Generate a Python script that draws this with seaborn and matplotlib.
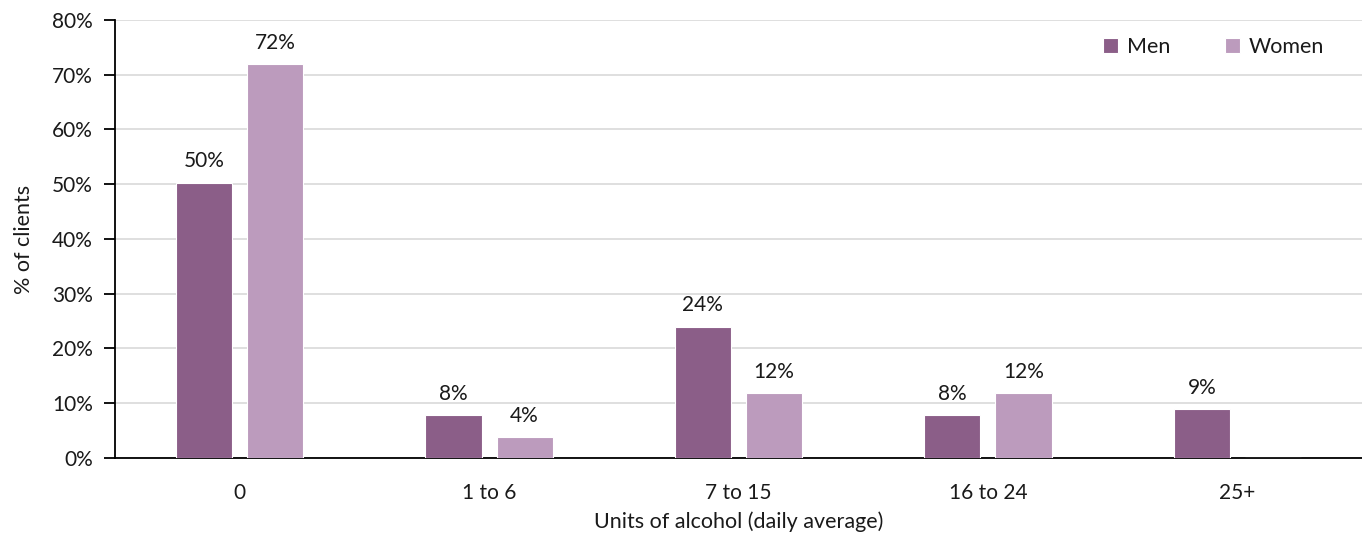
import matplotlib
matplotlib.use("Agg")
import matplotlib.pyplot as plt
import seaborn as sns
import pandas as pd
from matplotlib.ticker import PercentFormatter

categories = ["0", "1 to 6", "7 to 15", "16 to 24", "25+"]
men = [50.3, 7.9, 24.0, 7.9, 8.9]
women = [72.0, 3.9, 11.9, 11.9, 0.0]
series = ["Men", "Women"]
colors = ["#8B5E88", "#BC9BBD"]

df = pd.DataFrame({
    "Units": categories * 2,
    "Sex": ["Men"] * len(categories) + ["Women"] * len(categories),
    "Pct": men + women,
})

sns.set_theme(style="white")
plt.rcParams["font.family"] = ["Lato", "DejaVu Sans"]

fig = plt.figure(figsize=(13.62, 5.37), dpi=100)
ax = fig.add_axes([0.0844, 0.1471, 0.9156, 0.8157])

sns.barplot(data=df, x="Units", y="Pct", hue="Sex", order=categories,
            hue_order=series, palette=colors, saturation=1, width=0.57, gap=0.21,
            edgecolor="white", linewidth=0.8, ax=ax, zorder=3)

for container in ax.containers:
    labels = [f"{v:.0f}%" if v > 0 else "" for v in container.datavalues]
    ax.bar_label(container, labels=labels, padding=8, fontsize=15, color="#1a1a1a")

ax.set_ylim(0, 80)
ax.set_xlim(-0.5, len(categories) - 0.5)
ax.set_yticks(range(0, 81, 10))
ax.yaxis.set_major_formatter(PercentFormatter(decimals=0))
ax.grid(axis="y", color="#D9D9D9", linewidth=1.2, zorder=0)
ax.set_axisbelow(True)

for side in ["top", "right"]:
    ax.spines[side].set_visible(False)
for side in ["left", "bottom"]:
    ax.spines[side].set_color("black")
    ax.spines[side].set_linewidth(1.3)

ax.tick_params(axis="y", which="major", length=8, width=1.3, color="black",
               left=True, labelsize=15, labelcolor="#1a1a1a", pad=8)
ax.tick_params(axis="x", length=0, labelsize=15, labelcolor="#1a1a1a", pad=18)

ax.set_ylabel("% of clients", fontsize=15.5, color="#1a1a1a", labelpad=13)
ax.set_xlabel("Units of alcohol (daily average)", fontsize=15.5, color="#1a1a1a", labelpad=6)

leg = ax.legend(loc="upper right", ncol=2, frameon=False, fontsize=15.5,
                handlelength=0.7, handleheight=0.7, columnspacing=2.55,
                handletextpad=0.4, bbox_to_anchor=(0.985, 1.005))
for t in leg.get_texts():
    t.set_color("#1a1a1a")

fig.savefig("out.png", dpi=100)
